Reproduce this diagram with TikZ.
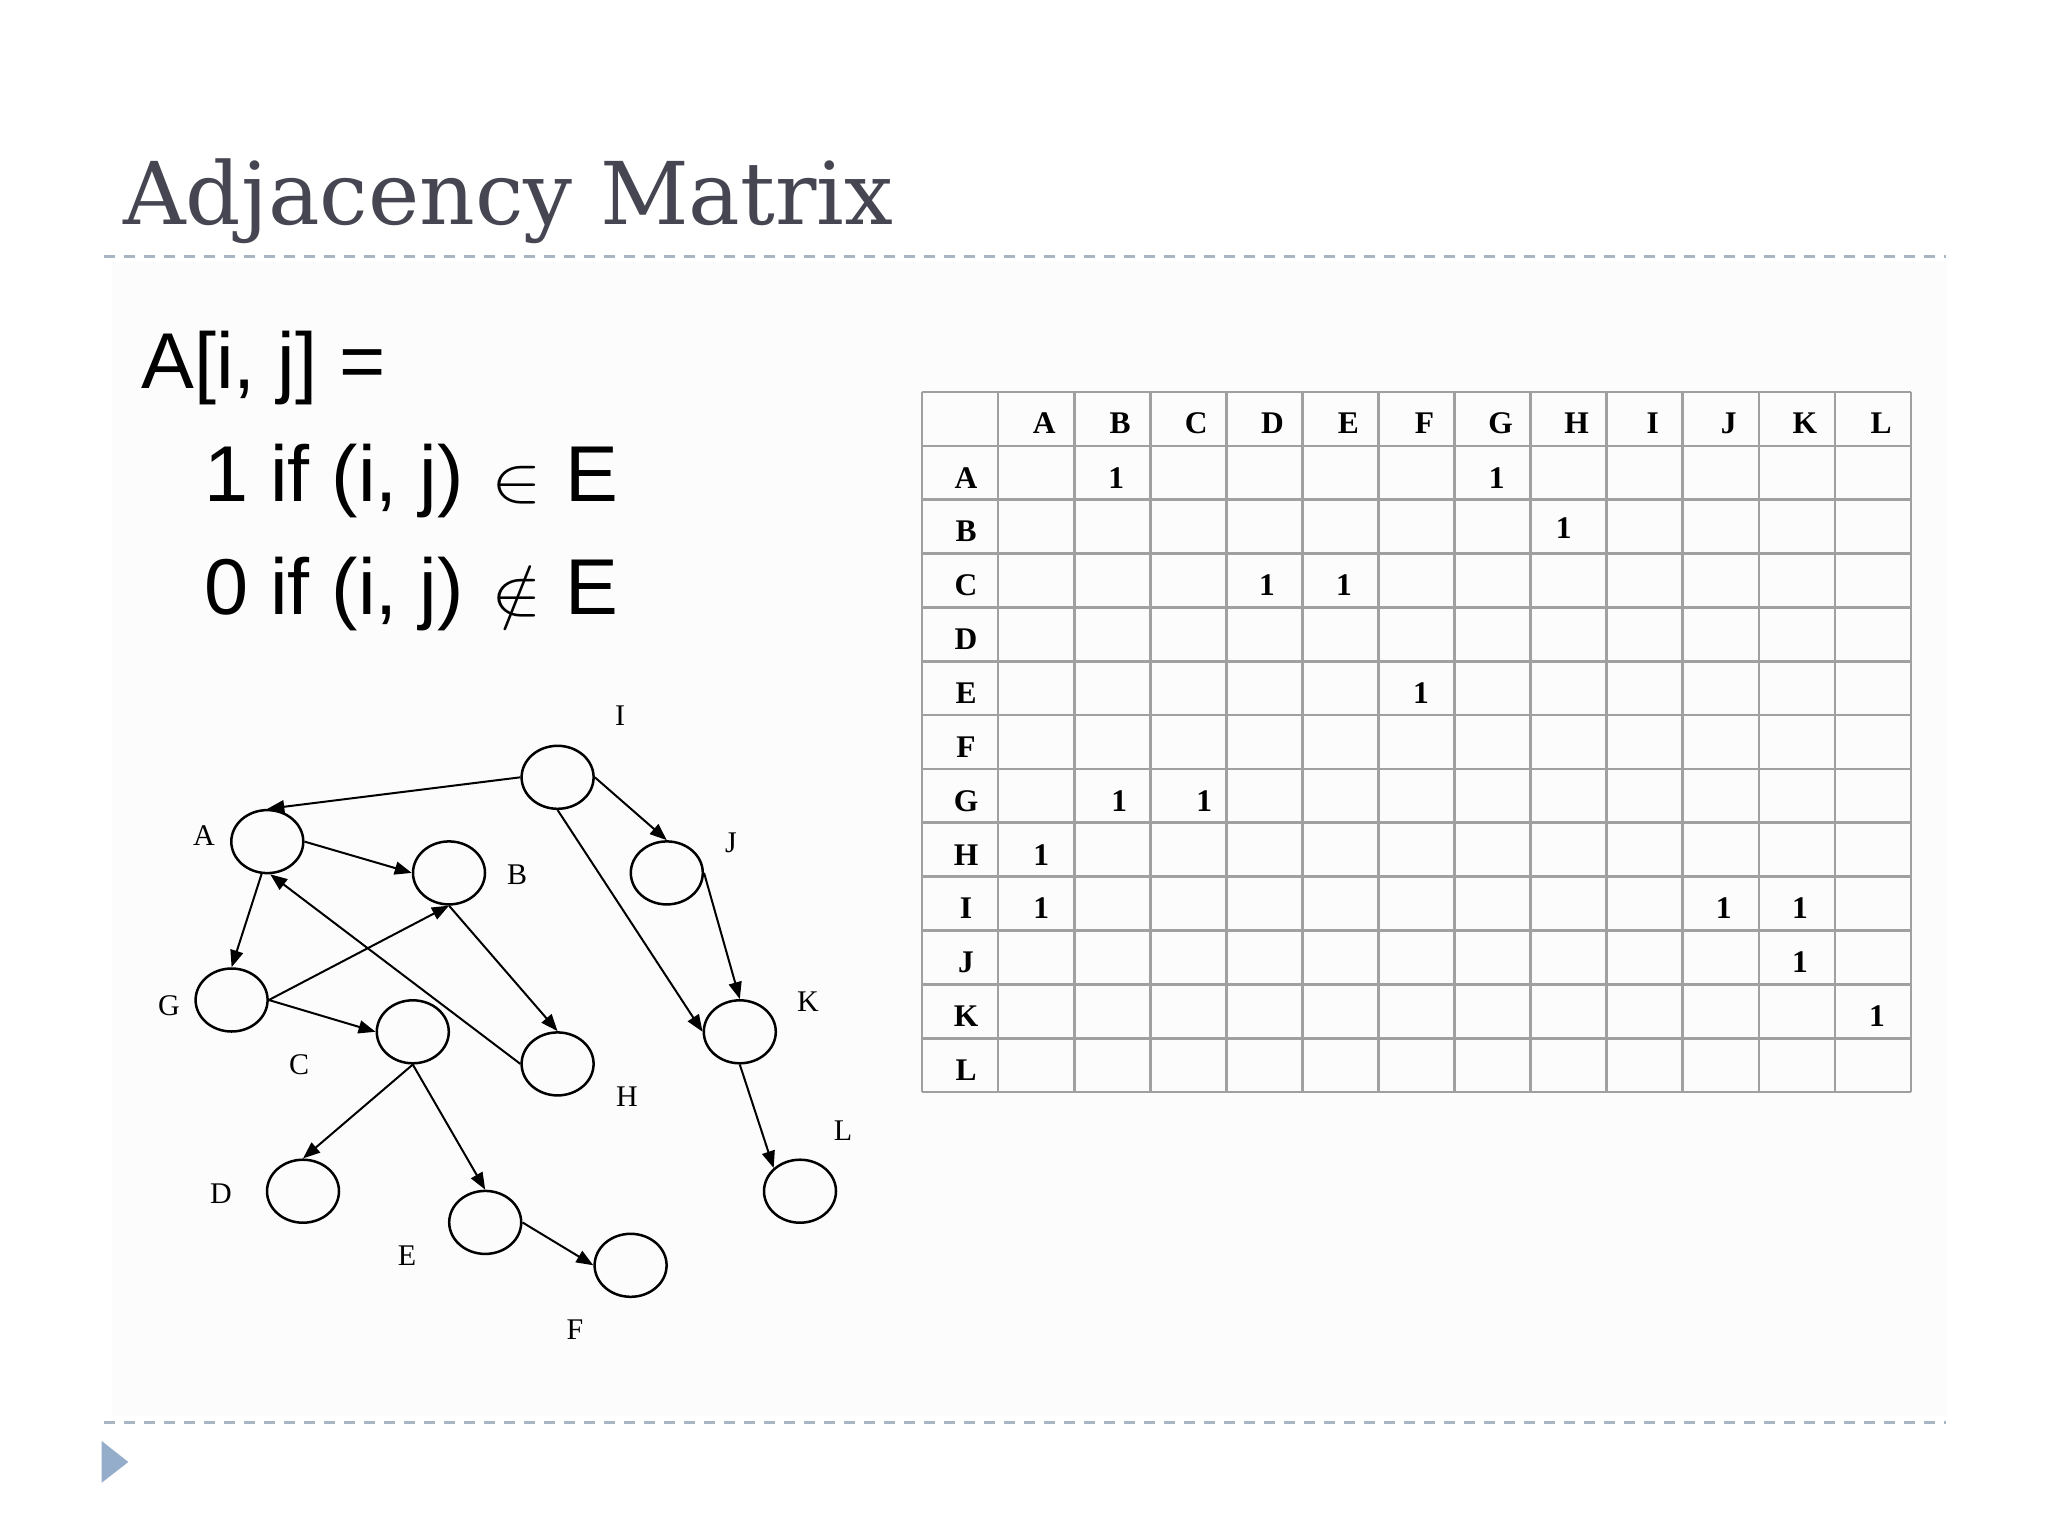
\documentclass[tikz,border=0pt]{standalone}
\usepackage{fontspec}
\usepackage{graphicx}
\setmainfont{Liberation Serif}
\newfontfamily\arialf{Liberation Sans}
\newfontfamily\titlef{DejaVu Serif}
\usetikzlibrary{shapes.geometric,arrows.meta}
\definecolor{titlecol}{RGB}{70,70,82}
\definecolor{dashcol}{RGB}{168,182,196}
\definecolor{tricol}{RGB}{148,173,203}
\definecolor{gridcol}{RGB}{160,160,160}
\definecolor{panel}{RGB}{252,252,253}
\newcommand{\bigin}{{\fontsize{28}{28}\selectfont\scalebox{1.52}[1.31]{$\in$}}}
\newcommand{\bignotin}{{\fontsize{28}{28}\selectfont\scalebox{1.52}[1.31]{$\notin$}}}
\begin{document}
\begin{tikzpicture}[x=0.5pt,y=-0.5pt,
  vtx/.style={draw,ellipse,line width=1.25pt,minimum width=36pt,minimum height=31.5pt,inner sep=0pt},
  lbl/.style={font=\fontsize{15}{15}\selectfont,inner sep=0pt},
  edge/.style={line width=1pt,-{Triangle[length=8.5pt,width=6.5pt]}},
  hdr/.style={font=\fontsize{15.75}{16}\selectfont\bfseries,inner sep=0pt},
  gridline/.style={gridcol,line width=1.35pt},
  dashline/.style={dashcol,line width=1.5pt,dash pattern=on 5.5pt off 4.5pt},
  formula/.style={anchor=base west,inner sep=0pt,font=\arialf\fontsize{39.6}{39.6}\selectfont}]
\useasboundingbox (0,0) rectangle (2048,1536);
\fill[white] (0,0) rectangle (2048,1536);
\fill[panel] (112,262) rectangle (1946,1416);

% title and rules
\node[anchor=base west,inner sep=0pt,text=titlecol,font=\titlef\fontsize{43.3}{43.3}\selectfont] (title) at (123,224) {Adjacency Matrix};
\draw[dashline] (104,256) -- (1946,256);
\draw[dashline] (104,1422) -- (1946,1422);
\fill[tricol] (101.7,1441) -- (101.7,1482.7) -- (128.3,1462) -- cycle;

% formula
\node[formula] (f1) at (141,388) {A[i, j] =};
\node[formula] (f2) at (204,501) {1 if (i, j)\hspace{13.5pt}\bigin\hspace{12pt}E};
\node[formula] (f3) at (204,614) {0 if (i, j)\hspace{13.5pt}\bignotin\hspace{12pt}E};

% table grid
\foreach \i in {0,...,13} {
  \draw[gridline] ({922+76.08*\i},392) -- ({922+76.08*\i},1092);
  \draw[gridline] (922,{392+53.85*\i}) -- (1911,{392+53.85*\i});
}
\foreach \L [count=\k] in {A,B,C,D,E,F,G,H,I,J,K,L} {
  \node[hdr] (h\L) at ({922+76.08*(\k+0.5)+8},{392+53.85*0.5+4}) {\L};
  \node[hdr] (r\L) at ({922+76.08*0.5+6},{392+53.85*(\k+0.5)+5}) {\L};
}
\foreach \r/\c/\dx/\dy/\n in {1/2/4/5/AB,1/7/4/5/AG,2/8/-5/1/BH,3/4/2.5/5/CD,3/5/3.5/5/CE,
  5/6/4.5/5/EF,7/2/7/5/GB,7/3/16/5/GC,8/1/5/5/HA,9/1/5/5/IA,9/10/3/5/IJ,9/11/3/5/IK,
  10/11/3/5/JK,11/12/4/5/KL} {
  \node[hdr] (v\n) at ({922+76.08*(\c+0.5)+\dx},{392+53.85*(\r+0.5)+\dy}) {1};
}

% graph
\node[vtx] (I) at (557.6,777.3) {};
\node[vtx] (A) at (267.3,841.6) {};
\node[vtx] (B) at (449,872.9) {};
\node[vtx] (J) at (666.8,872.9) {};
\node[vtx] (G) at (231.6,1000) {};
\node[vtx] (C) at (412.8,1031.8) {};
\node[vtx] (H) at (557.6,1063.9) {};
\node[vtx] (K) at (739.8,1031.8) {};
\node[vtx] (D) at (303,1191.2) {};
\node[vtx] (E) at (485.2,1222.4) {};
\node[vtx] (F) at (630.6,1265.3) {};
\node[vtx] (L) at (800,1191.2) {};

\node[lbl] (lI) at (620,716) {I};
\node[lbl] (lA) at (204,836) {A};
\node[lbl] (lB) at (517,875) {B};
\node[lbl] (lJ) at (731,843) {J};
\node[lbl] (lG) at (169,1006) {G};
\node[lbl] (lC) at (299,1065) {C};
\node[lbl] (lH) at (627,1097) {H};
\node[lbl] (lK) at (808,1002) {K};
\node[lbl] (lL) at (843,1131) {L};
\node[lbl] (lD) at (221,1194) {D};
\node[lbl] (lE) at (407,1256) {E};
\node[lbl] (lF) at (575,1330) {F};

\draw[edge] (I.west) -- (A.north);
\draw[edge] (I.east) -- (J.north);
\draw[edge] (I.south) -- (K.west);
\draw[edge] (A.east) -- (B.west);
\draw[edge] (A.260) -- (G.north);
\draw[edge] (H.west) -- (A.275);
\draw[edge] (G.east) -- (B.south);
\draw[edge] (G.east) -- (C.west);
\draw[edge] (B.south) -- (H.north);
\draw[edge] (C.south) -- (D.north);
\draw[edge] (C.south) -- (E.north);
\draw[edge] (E.east) -- (F.west);
\draw[edge] (J.east) -- (K.north);
\draw[edge] (K.south) -- (L.north west);
\end{tikzpicture}
\end{document}
